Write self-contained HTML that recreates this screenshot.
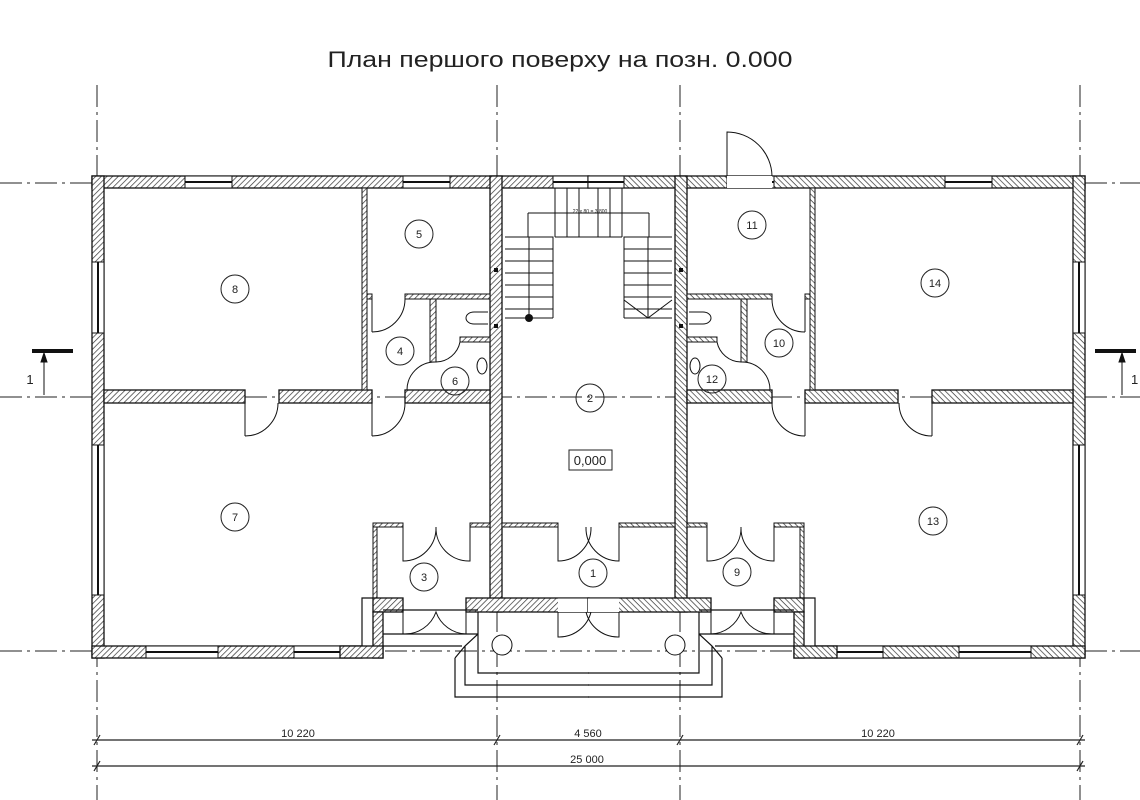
<!DOCTYPE html>
<html><head><meta charset="utf-8"><style>
html,body{margin:0;padding:0;background:#fff;}
svg{display:block;}
text{font-family:"Liberation Sans",sans-serif;fill:#222;}
</style></head><body>
<svg width="1140" height="800" viewBox="0 0 1140 800" xmlns="http://www.w3.org/2000/svg">
<defs>
<pattern id="h" width="4" height="4" patternUnits="userSpaceOnUse" patternTransform="rotate(45)">
<rect width="4" height="4" fill="#fff"/><line x1="0" y1="0" x2="0" y2="4" stroke="#333" stroke-width="1.4"/>
</pattern>
<g id="half">
<rect x="92" y="176" width="497" height="12" fill="url(#h)" stroke="#111" stroke-width="1.3"/>
<rect x="92" y="176" width="12" height="482" fill="url(#h)" stroke="#111" stroke-width="1.3"/>
<rect x="92" y="646" width="270" height="12" fill="url(#h)" stroke="#111" stroke-width="1.3"/>
<rect x="185" y="176" width="47" height="12" fill="#fff" stroke="#111"/><line x1="185" y1="182" x2="232" y2="182" stroke="#111" stroke-width="2"/>
<rect x="403" y="176" width="47" height="12" fill="#fff" stroke="#111"/><line x1="403" y1="182" x2="450" y2="182" stroke="#111" stroke-width="2"/>
<rect x="92" y="262" width="12" height="71" fill="#fff" stroke="#111"/><line x1="98" y1="262" x2="98" y2="333" stroke="#111" stroke-width="2"/>
<rect x="92" y="445" width="12" height="150" fill="#fff" stroke="#111"/><line x1="98" y1="445" x2="98" y2="595" stroke="#111" stroke-width="2"/>
<rect x="146" y="646" width="72" height="12" fill="#fff" stroke="#111"/><line x1="146" y1="652" x2="218" y2="652" stroke="#111" stroke-width="2"/>
<rect x="294" y="646" width="46" height="12" fill="#fff" stroke="#111"/><line x1="294" y1="652" x2="340" y2="652" stroke="#111" stroke-width="2"/>
<rect x="490" y="176" width="12" height="436" fill="url(#h)" stroke="#111" stroke-width="1.3"/>
<rect x="104" y="390" width="141" height="13" fill="url(#h)" stroke="#111" stroke-width="1.3"/>
<rect x="279" y="390" width="93" height="13" fill="url(#h)" stroke="#111" stroke-width="1.3"/>
<rect x="405" y="390" width="85" height="13" fill="url(#h)" stroke="#111" stroke-width="1.3"/>
<rect x="362" y="188" width="5" height="202" fill="url(#h)" stroke="#111"/>
<rect x="367" y="294" width="5" height="5" fill="url(#h)" stroke="#111"/>
<rect x="405" y="294" width="85" height="5" fill="url(#h)" stroke="#111"/>
<rect x="430" y="299" width="6" height="63" fill="url(#h)" stroke="#111"/>
<rect x="460" y="337" width="30" height="5" fill="url(#h)" stroke="#111"/>
<path d="M488 312 h-14 a8 6 0 0 0 0 12 h14" fill="none" stroke="#111"/>
<ellipse cx="482" cy="366" rx="5" ry="8" fill="none" stroke="#111"/>
<path d="M245 403 v33 M245 436 a33 33 0 0 0 33 -33" fill="none" stroke="#111"/>
<path d="M372 299 v33 M372 332 a33 33 0 0 0 33 -33" fill="none" stroke="#111"/>
<path d="M372 403 v33 M372 436 a33 33 0 0 0 33 -33" fill="none" stroke="#111"/>
<path d="M436 362 a25 25 0 0 0 24 -20" fill="none" stroke="#111"/>
<path d="M407 390 a28 28 0 0 1 28 -28" fill="none" stroke="#111"/>
<rect x="373" y="523" width="30" height="4" fill="url(#h)" stroke="#111"/>
<rect x="470" y="523" width="20" height="4" fill="url(#h)" stroke="#111"/>
<rect x="502" y="523" width="56" height="4" fill="url(#h)" stroke="#111"/>
<rect x="373" y="527" width="4" height="71" fill="url(#h)" stroke="#111"/>
<path d="M403 527 v34 a33 33 0 0 0 33 -34 a33 33 0 0 0 34 34 v-34" fill="none" stroke="#111"/>
<path d="M558 527 v34 a33 33 0 0 0 33 -34" fill="none" stroke="#111"/>
<rect x="373" y="598" width="30" height="14" fill="url(#h)" stroke="#111" stroke-width="1.3"/>
<rect x="466" y="598" width="123" height="14" fill="url(#h)" stroke="#111" stroke-width="1.3"/>
<rect x="558" y="598" width="31" height="14" fill="#fff" stroke="none"/>
<path d="M558 598 h31" stroke="#111"/>
<path d="M403 612 v22 a33 33 0 0 0 33 -22 a33 33 0 0 0 30 22 v-22" fill="none" stroke="#111"/>
<path d="M558 612 v25 a33 33 0 0 0 33 -25" fill="none" stroke="#111"/>
<rect x="373" y="612" width="10" height="46" fill="url(#h)" stroke="#111" stroke-width="1.3"/>
<rect x="340" y="646" width="43" height="12" fill="url(#h)" stroke="#111" stroke-width="1.3"/>
<path d="M362 646 V598 H373 M383 610 H478 M383 634 H478 M383 646 H462 M478 612 V673 H589 M465 646 V685 H589 M455 658 V697 H589 M478 634 L465 646 L455 658" fill="none" stroke="#111" stroke-width="1.2"/>
<circle cx="502" cy="645" r="10" fill="#fff" stroke="#111"/>
<rect x="553" y="176" width="36" height="12" fill="#fff" stroke="#111"/><line x1="553" y1="182" x2="589" y2="182" stroke="#111" stroke-width="2"/>
<path d="M505 237 H553 V318 M505 249 H553 M505 261 H553 M505 273 H553 M505 285 H553 M505 297 H553 M505 309 H553 M505 318 H553 M529 237 V318 M528 213 H589 M528 213 V237 M555 188 V237 M567 188 V237 M579 188 V237 M555 237 H589" fill="none" stroke="#111"/>
<rect x="494" y="268" width="4" height="4" fill="#111"/><rect x="494" y="324" width="4" height="4" fill="#111"/>
</g>
</defs>

<text x="560" y="67" font-size="22" text-anchor="middle" textLength="465" lengthAdjust="spacingAndGlyphs">План першого поверху на позн. 0.000</text>

<g stroke="#222" stroke-width="1" stroke-dasharray="22,5,3,5" fill="none">
<line x1="97" y1="85" x2="97" y2="800"/>
<line x1="497" y1="85" x2="497" y2="800"/>
<line x1="680" y1="85" x2="680" y2="800"/>
<line x1="1080" y1="85" x2="1080" y2="800"/>
<line x1="0" y1="183" x2="1140" y2="183"/>
<line x1="0" y1="397" x2="1140" y2="397"/>
<line x1="0" y1="651" x2="1140" y2="651"/>
</g>

<use href="#half"/>
<use href="#half" transform="translate(1177,0) scale(-1,1)"/>
<circle cx="529" cy="318" r="4" fill="#111"/>
<path d="M624 300 L648 318 L672 300" fill="none" stroke="#111"/>

<rect x="727" y="176" width="45" height="12" fill="#fff"/>
<path d="M727 176 V132 a45 45 0 0 1 45 44" fill="none" stroke="#111"/>
<text x="590" y="213" font-size="5" text-anchor="middle">22 x 80 = 3 800</text>

<g font-size="11" text-anchor="middle">
<g fill="none" stroke="#222" stroke-width="1">
<circle cx="235" cy="289" r="14"/><circle cx="419" cy="234" r="14"/><circle cx="400" cy="351" r="14"/>
<circle cx="455" cy="381" r="14"/><circle cx="590" cy="398" r="14"/><circle cx="235" cy="517" r="14"/>
<circle cx="424" cy="577" r="14"/><circle cx="593" cy="573" r="14"/><circle cx="737" cy="572" r="14"/>
<circle cx="933" cy="521" r="14"/><circle cx="935" cy="283" r="14"/><circle cx="752" cy="225" r="14"/>
<circle cx="779" cy="343" r="14"/><circle cx="712" cy="379" r="14"/>
</g>
<text x="235" y="293">8</text><text x="419" y="238">5</text><text x="400" y="355">4</text>
<text x="455" y="385">6</text><text x="590" y="402">2</text><text x="235" y="521">7</text>
<text x="424" y="581">3</text><text x="593" y="577">1</text><text x="737" y="576">9</text>
<text x="933" y="525">13</text><text x="935" y="287">14</text><text x="752" y="229">11</text>
<text x="779" y="347">10</text><text x="712" y="383">12</text>
</g>
<rect x="569" y="450" width="43" height="20" fill="#fff" stroke="#222"/>
<text x="590" y="465" font-size="13" text-anchor="middle">0,000</text>

<g stroke="#111">
<rect x="32" y="349" width="41" height="4" fill="#111" stroke="none"/>
<line x1="44" y1="353" x2="44" y2="395"/>
<path d="M41 362 L44 353 L47 362 Z" fill="#111"/>
<rect x="1095" y="349" width="41" height="4" fill="#111" stroke="none"/>
<line x1="1122" y1="353" x2="1122" y2="395"/>
<path d="M1119 362 L1122 353 L1125 362 Z" fill="#111"/>
</g>
<text x="30" y="384" font-size="13" text-anchor="middle">1</text>
<text x="1131" y="384" font-size="13">1</text>

<g stroke="#222" stroke-width="1.2">
<line x1="92" y1="740" x2="1085" y2="740"/>
<line x1="92" y1="766" x2="1085" y2="766"/>
<path d="M94 745 L100 735 M494 745 L500 735 M677 745 L683 735 M1077 745 L1083 735 M94 771 L100 761 M1077 771 L1083 761"/>
</g>
<g font-size="11" text-anchor="middle">
<text x="298" y="737">10 220</text><text x="588" y="737">4 560</text><text x="878" y="737">10 220</text>
<text x="587" y="763">25 000</text>
</g>
</svg>
</body></html>
